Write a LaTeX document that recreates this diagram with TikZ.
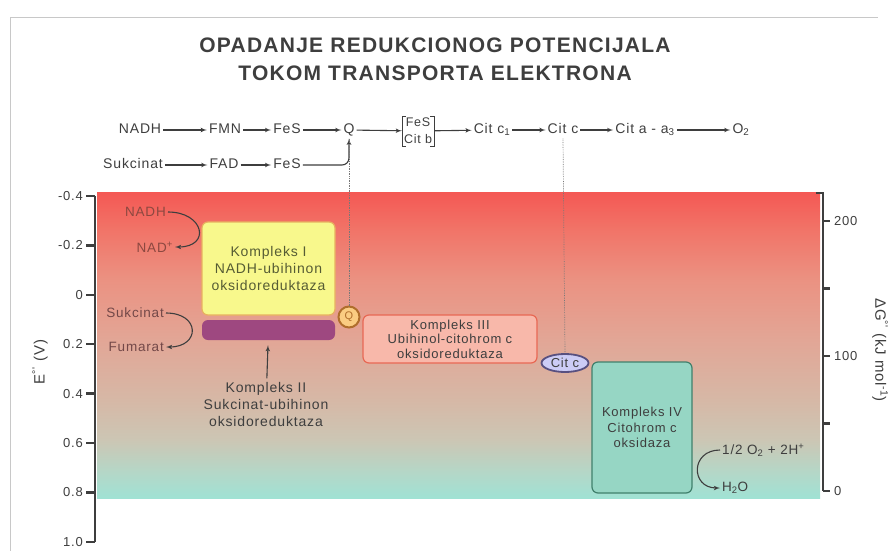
\documentclass[tikz,border=0pt]{standalone}
\usepackage{fontspec}
\setmainfont{Liberation Sans}
\newfontfamily\lblfont[LetterSpace=6]{Liberation Sans}
\usepackage{tikz}
\usetikzlibrary{positioning}
\usetikzlibrary{arrows}
\usetikzlibrary{shapes.geometric}

\definecolor{inkgray}{RGB}{62,62,62}
\definecolor{framegray}{RGB}{200,200,200}
\definecolor{bgteal}{RGB}{160,226,212}
\definecolor{bgmint}{RGB}{182,214,198}
\definecolor{bggray}{RGB}{204,198,180}
\definecolor{bgtan}{RGB}{214,184,166}
\definecolor{bgrose}{RGB}{226,166,150}
\definecolor{bgsalmon}{RGB}{235,146,130}
\definecolor{bgcoral}{RGB}{241,116,104}
\definecolor{bgred}{RGB}{244,88,84}
\definecolor{nadcol}{RGB}{140,72,64}
\definecolor{sukcol}{RGB}{115,72,72}
\definecolor{konecol}{RGB}{86,92,52}
\definecolor{konefill}{RGB}{248,248,140}
\definecolor{koneline}{RGB}{232,176,96}
\definecolor{ktwofill}{RGB}{158,72,128}
\definecolor{kthreefill}{RGB}{248,184,170}
\definecolor{kthreeline}{RGB}{232,104,84}
\definecolor{kfourfill}{RGB}{150,214,196}
\definecolor{kfourline}{RGB}{64,128,108}
\definecolor{qfill}{RGB}{250,204,130}
\definecolor{qline}{RGB}{176,110,44}
\definecolor{citfill}{RGB}{204,204,246}
\definecolor{citline}{RGB}{88,80,128}

\pgfdeclareverticalshading{potshade}{100bp}{color(0bp)=(bgteal); color(25bp)=(bgteal);
  color(29.6bp)=(bgmint); color(34.5bp)=(bggray); color(41bp)=(bgtan); color(50.8bp)=(bgrose);
  color(60.6bp)=(bgsalmon); color(68.8bp)=(bgcoral); color(75bp)=(bgred); color(100bp)=(bgred)}

\tikzset{flow/.style = {->,> = latex', line width=1.1pt, draw=inkgray}}

\begin{document}
\begin{tikzpicture}[x=1pt, y=-1pt,
  chain/.style={font=\lblfont\fontsize{14}{17}\selectfont, text=inkgray, inner sep=2pt, text height=10pt, text depth=3pt},
  lbl/.style={font=\lblfont\fontsize{13.5}{16}\selectfont, inner sep=2pt},
  boxtxt/.style={font=\lblfont\fontsize{13}{15}\selectfont, align=center, text=inkgray},
  tick label/.style={font=\lblfont\fontsize{13}{15}\selectfont, text=inkgray, inner sep=1pt},
  guide/.style={densely dotted, draw=inkgray!70, line width=0.7pt},
  axis/.style={draw=inkgray, line width=2.4pt}]

\useasboundingbox (0,0) rectangle (891,551);
\draw[framegray, line width=1pt] (10,551) -- (10,18) -- (878,18);

% title
\node[font=\lblfont\bfseries\fontsize{21}{28}\selectfont, text=inkgray, align=center] (title) at (435,59)
  {OPADANJE REDUKCIONOG POTENCIJALA\\TOKOM TRANSPORTA ELEKTRONA};

% redox chain
\node[chain] (nadh) at (140,130) {NADH};
\node[chain] (fmn) at (225,130) {FMN};
\node[chain] (fes1) at (287,130) {FeS};
\node[chain] (qch) at (349,130) {Q};
\node[font=\lblfont\fontsize{12.5}{17}\selectfont, text=inkgray, align=center, inner sep=2pt] (fesb) at (418,131) {FeS\\Cit b};
\node[chain] (citc1) at (492,130) {Cit c\textsubscript{1}};
\node[chain] (citch) at (563,130) {Cit c};
\node[chain] (cita) at (645,130) {Cit a - a\textsubscript{3}};
\node[chain] (otwo) at (741,130) {O\textsubscript{2}};
\node[chain] (suk) at (133,165) {Sukcinat};
\node[chain] (fad) at (224,165) {FAD};
\node[chain] (fes2) at (287,165) {FeS};

\draw[inkgray, line width=0.6pt] ([xshift=4pt]fesb.north west) -- (fesb.north west) -- (fesb.south west) -- ++(4pt,0);
\draw[inkgray, line width=0.6pt] ([xshift=-4pt]fesb.north east) -- (fesb.north east) -- (fesb.south east) -- ++(-4pt,0);

\draw[flow] (nadh) -- (fmn);
\draw[flow] (fmn) -- (fes1);
\draw[flow] (fes1) -- (qch);
\draw[flow] (qch) -- (fesb);
\draw[flow] (fesb) -- (citc1);
\draw[flow] (citc1) -- (citch);
\draw[flow] (citch) -- (cita);
\draw[flow] (cita) -- (otwo);
\draw[flow] (suk) -- (fad);
\draw[flow] (fad) -- (fes2);
\draw[flow, rounded corners=7pt] (fes2) -| (qch);

% potential scale
\shade[shading=potshade] (97,192) rectangle (820,498);

\draw[axis] (95,196) -- (95,542);
\foreach \i/\v in {0/-0.4, 1/-0.2, 2/0, 3/0.2, 4/0.4, 5/0.6, 6/0.8, 7/1.0} {
  \draw[axis] (86,196+49.4*\i) -- (95,196+49.4*\i);
  \node[tick label, anchor=east] at (84,196+49.4*\i) {\v};
}
\node[font=\lblfont\fontsize{15}{17}\selectfont, text=inkgray, rotate=90] (elab) at (40,362) {E\textsuperscript{°'} (V)};

\draw[axis] (816,193) -- (823,193) -- (823,491);
\foreach \i/\v in {0/200, 1/, 2/100, 3/, 4/0} {
  \draw[axis] (823,221+67.5*\i) -- (830,221+67.5*\i);
  \node[tick label, anchor=west] at (833,221+67.5*\i) {\v};
}
\node[font=\lblfont\fontsize{15}{17}\selectfont, text=inkgray, rotate=-90] (glab) at (880,350) {ΔG\textsuperscript{°'} (kJ mol\textsuperscript{-1})};

% substrates
\node[lbl, text=nadcol, anchor=east] (nadhl) at (168,212) {NADH};
\node[lbl, text=nadcol, anchor=east] (nadl) at (175,247) {NAD\textsuperscript{+}};
\node[lbl, text=sukcol, anchor=east] (sukl) at (166,313) {Sukcinat};
\node[lbl, text=sukcol, anchor=east] (fuml) at (166,347) {Fumarat};
\draw[flow] (nadhl.east) to[out=0, in=0, looseness=2.6] (nadl.east);
\draw[flow] (sukl.east) to[out=0, in=0, looseness=2.6] (fuml.east);

% complexes
\node[boxtxt, font=\lblfont\fontsize{14}{17}\selectfont, text=konecol, fill=konefill, draw=koneline, line width=1.2pt,
  rounded corners=6pt, minimum width=133, minimum height=93] (kone) at (268.5,268.5)
  {Kompleks I\\NADH-ubihinon\\oksidoreduktaza};
\node[fill=ktwofill, rounded corners=6pt, minimum width=133, minimum height=20, inner sep=0pt] (ktwo) at (268.5,330) {};
\node[boxtxt, font=\lblfont\fontsize{14}{17}\selectfont] (ktwol) at (266,404)
  {Kompleks II\\Sukcinat-ubihinon\\oksidoreduktaza};
\draw[flow, shorten >=5pt] (ktwol) -- (ktwo);

\node[circle, fill=qfill, draw=qline, line width=2pt, minimum size=21pt, inner sep=0pt,
  font=\lblfont\fontsize{11}{13}\selectfont, text=qline] (qc) at (349,317) {Q};
\node[boxtxt, fill=kthreefill, draw=kthreeline, line width=1.2pt, rounded corners=6pt,
  minimum width=174, minimum height=48, inner sep=1pt, font=\lblfont\fontsize{13}{14.5}\selectfont] (kthree) at (450,339)
  {Kompleks III\\Ubihinol-citohrom c\\oksidoreduktaza};
\node[ellipse, fill=citfill, draw=citline, line width=1.8pt, minimum width=47, minimum height=18, inner sep=0pt,
  font=\lblfont\fontsize{13}{15}\selectfont, text=inkgray] (citc) at (565,363) {Cit c};
\node[boxtxt, fill=kfourfill, draw=kfourline, line width=1.2pt, rounded corners=6pt,
  minimum width=100, minimum height=131, font=\lblfont\fontsize{13}{15.5}\selectfont] (kfour) at (642,427.5)
  {Kompleks IV\\Citohrom c\\oksidaza};

\node[lbl, text=inkgray, anchor=west] (half) at (720,450) {1/2 O\textsubscript{2} + 2H\textsuperscript{+}};
\node[lbl, text=inkgray, anchor=west] (htwoo) at (720,488) {H\textsubscript{2}O};
\draw[flow] (half.west) to[out=180, in=180, looseness=2] (htwoo.west);

% guides
\draw[guide] (qch.south) -- (qc.north);
\draw[guide] (citch.south) -- (citc.north);

\end{tikzpicture}
\end{document}
